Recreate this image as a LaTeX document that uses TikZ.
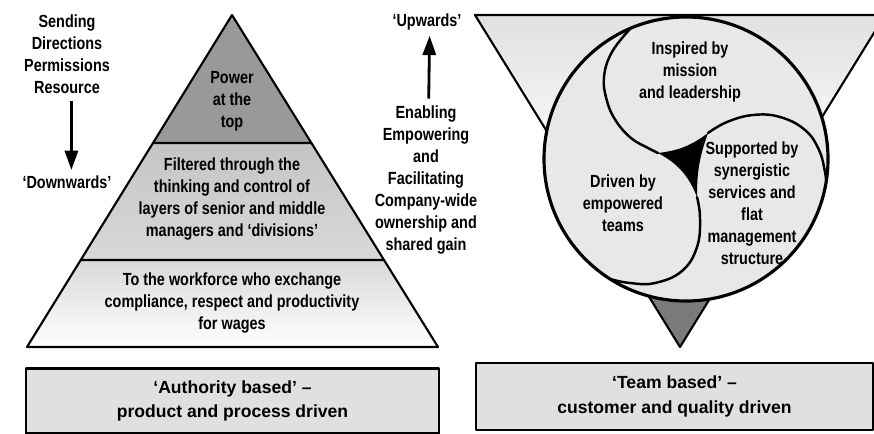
\documentclass[tikz,border=0pt]{standalone}
\usepackage{fontspec}
\setmainfont{Liberation Sans}
\newfontfamily\condfont{Liberation Sans}[FakeStretch=0.82]
\usetikzlibrary{calc,arrows.meta}

\begin{document}
\begin{tikzpicture}[x=0.02cm,y=0.02cm,line join=round,
  cond/.style={font=\condfont\bfseries\fontsize{10}{12.5}\selectfont,align=center,inner sep=1pt},
  box/.style={draw,line width=1.2pt,fill=black!12,font=\bfseries\fontsize{10}{14}\selectfont,align=center},
  arr/.style={-{Triangle[length=11pt,width=7.5pt]},line width=1.6pt,shorten <=3pt,shorten >=2pt},
  divider/.style={line width=1.4pt,line cap=round}]
\useasboundingbox (0,0) rectangle (874,-433);

% pyramid
\coordinate (A) at (232,-15);
\coordinate (L) at (27,-347);
\coordinate (R) at (438,-347);
\coordinate (L1) at ($(A)!0.3855!(L)$);
\coordinate (R1) at ($(A)!0.3855!(R)$);
\coordinate (L2) at ($(A)!0.738!(L)$);
\coordinate (R2) at ($(A)!0.738!(R)$);
\fill[black!40] (A) -- (L1) -- (R1) -- cycle;
\shade[top color=black!23,bottom color=black!15] (L1) -- (R1) -- (R2) -- (L2) -- cycle;
\shade[top color=black!15,bottom color=white] (L2) -- (R2) -- (R) -- (L) -- cycle;
\draw[line width=1.2pt] (A) -- (L) -- (R) -- cycle (L1) -- (R1) (L2) -- (R2);
\node[cond] (power) at (232,-101) {Power\\at the\\top};
\node[cond] (filter) at (232,-199) {Filtered through the\\thinking and control of\\layers of senior and middle\\managers and ‘divisions’};
\node[cond] (workforce) at (232,-303) {To the workforce who exchange\\compliance, respect and productivity\\for wages};

\node[cond] (send) at (67,-54) {Sending\\Directions\\Permissions\\Resource};
\node[cond] (down) at (67,-182) {‘Downwards’};
\draw[arr] ([xshift=2.5pt]send.south) -- ([xshift=2.5pt]down.north);

\node[cond] (up) at (427,-22) {‘Upwards’};
\node[cond] (enable) at (426,-180) {Enabling\\Empowering\\and\\Facilitating\\Company-wide\\ownership and\\shared gain};
\draw[arr] ([xshift=1.5pt]enable.north) -- ([xshift=1.5pt]up.south);

% inverted triangle and circle
\coordinate (TL) at (475,-15);
\coordinate (TR) at (885,-15);
\coordinate (V) at (680,-347);
\shade[top color=black!12,bottom color=white,middle color=white] (TL) -- (TR) -- (V) -- cycle;
\fill[black!52] (V) -- ($(V)!0.18!(TL)$) -- ($(V)!0.18!(TR)$) -- cycle;
\draw[line width=1.2pt] (TL) -- (TR) -- (V) -- cycle;

\coordinate (hub) at (686,-159);
\coordinate (k1) at (658,-153);
\coordinate (k2) at (708,-133);
\coordinate (k3) at (697,-197);
\fill[black!9] (hub) circle (142);
\draw[divider] plot[smooth,tension=0.7] coordinates {(630,-29) (612,-52) (604,-77) (607,-101) (616,-121) (631,-138) (648,-148) (k1)};
\draw[divider] plot[smooth,tension=0.7] coordinates {(k2) (727,-122) (753,-115) (780,-117) (805,-130) (819,-150) (825,-172) (826,-182)};
\draw[divider] plot[smooth,tension=0.7] coordinates {(k3) (700,-218) (697,-247) (682,-271) (655,-283) (630,-283) (610,-279)};
\fill (k1) to[bend right=15] (k2) to[bend right=10] (k3) to[bend right=20] (k1) -- cycle;
\draw[line width=1.8pt] (hub) circle (142);
\node[cond] (inspired) at (690,-72) {Inspired by\\mission\\and leadership};
\node[cond] (driven) at (623,-203) {Driven by\\empowered\\teams};
\node[cond] (supported) at (752,-203) {Supported by\\synergistic\\services and\\flat\\management\\structure};

% captions
\node[box,minimum width=8.26cm,minimum height=1.3cm] (authority) at (232.5,-401) {‘Authority based’ –\\product and process driven};
\node[box,minimum width=7.94cm,minimum height=1.34cm] (team) at (674.5,-396.5) {‘Team based’ –\\customer and quality driven};
\end{tikzpicture}
\end{document}
